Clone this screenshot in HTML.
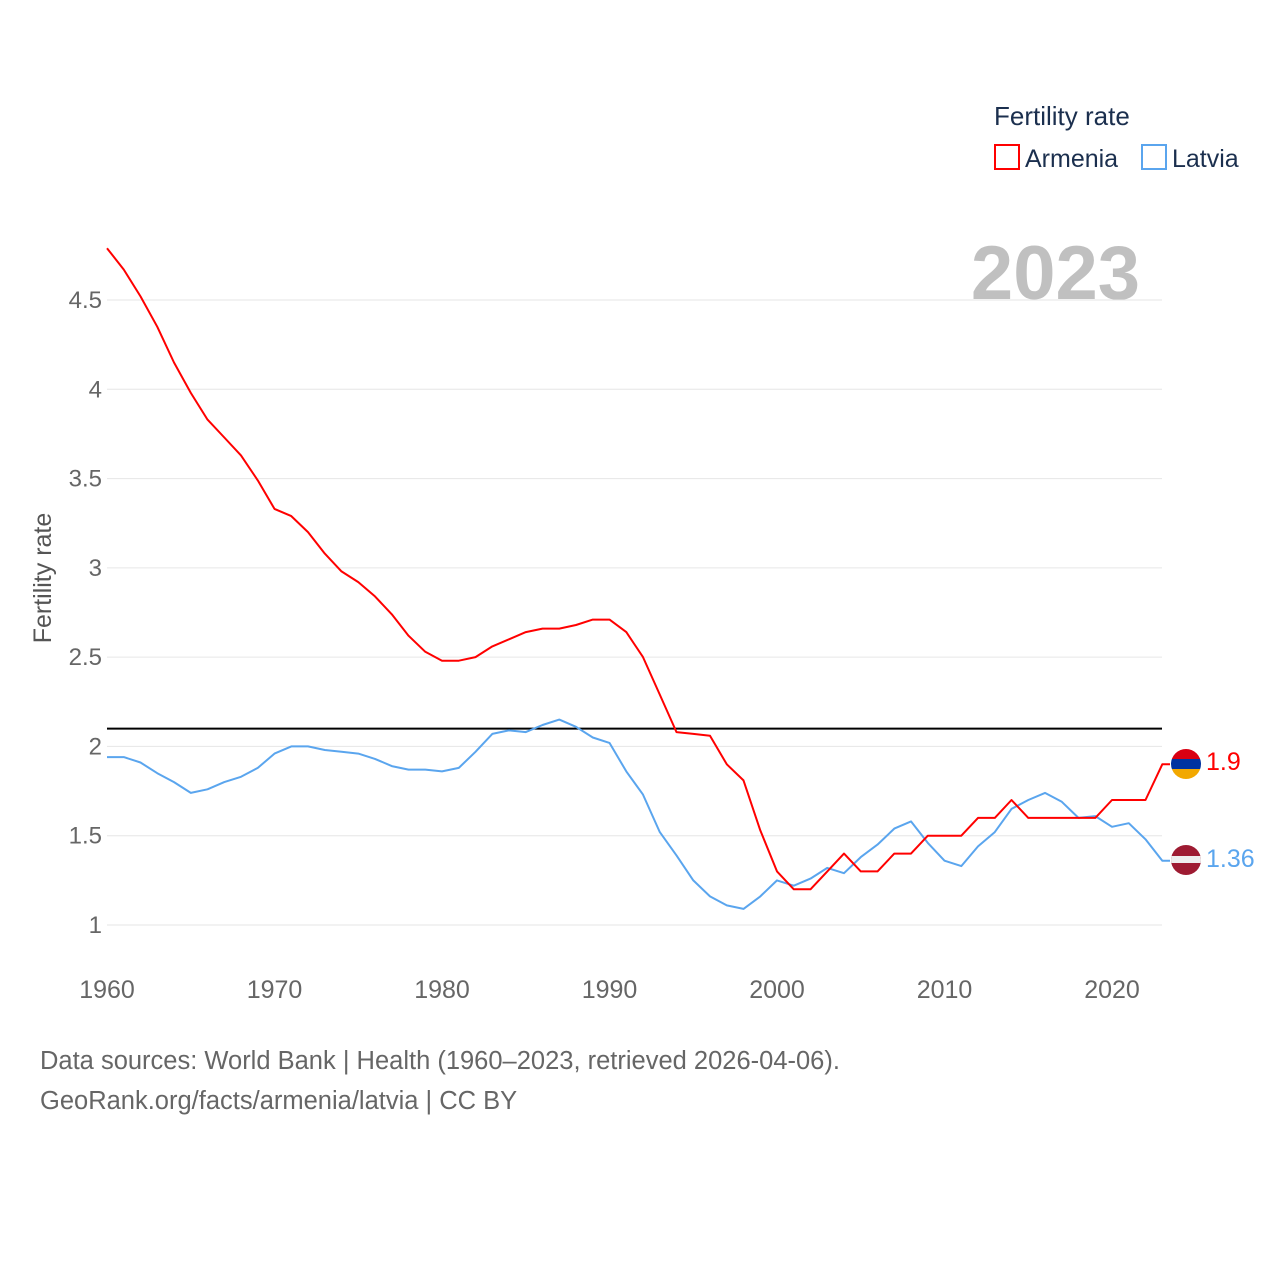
<!DOCTYPE html>
<html><head><meta charset="utf-8"><style>
body{margin:0;background:#fff;}
svg{display:block;font-family:"Liberation Sans",sans-serif;}
</style></head><body>
<svg id="chart" width="1280" height="1280" viewBox="0 0 1280 1280">
<text x="994" y="125" font-size="26" fill="#1b2f4e">Fertility rate</text>
<g>
<rect x="995" y="145" width="24" height="24" fill="none" stroke="#ff0000" stroke-width="2"/>
<text x="1025" y="167" font-size="25" fill="#1b2f4e">Armenia</text></g>
<g>
<rect x="1142" y="145" width="24" height="24" fill="none" stroke="#5aa5ee" stroke-width="2"/>
<text x="1172" y="167" font-size="25" fill="#1b2f4e">Latvia</text></g>
<text x="1140" y="299" font-size="76" font-weight="bold" fill="#c0c0c0" text-anchor="end">2023</text>
<g id="grid"></g><g id="yticks"></g><g id="xticks"></g>
<text transform="translate(51,578) rotate(-90)" font-size="25" fill="#555" text-anchor="middle">Fertility rate</text>
<g id="series"></g>
<g>
<clipPath id="c1"><circle cx="1186" cy="764" r="15"/></clipPath>
<g clip-path="url(#c1)"><rect x="1171" y="749" width="30" height="10" fill="#d90012"/><rect x="1171" y="759" width="30" height="10" fill="#0033a0"/><rect x="1171" y="769" width="30" height="10" fill="#f2a800"/></g></g>
<g>
<clipPath id="c2"><circle cx="1186" cy="860" r="15"/></clipPath>
<g clip-path="url(#c2)"><rect x="1171" y="845" width="30" height="30" fill="#9e1b32"/><rect x="1171" y="856" width="30" height="7" fill="#eee"/></g></g>
<text x="1206" y="770" font-size="25" fill="#ff0000">1.9</text>
<text x="1206" y="867" font-size="25" fill="#5aa5ee">1.36</text>
<text x="40" y="1069" font-size="25.5" fill="#666">Data sources: World Bank | Health (1960–2023, retrieved 2026-04-06).</text>
<text x="40" y="1109" font-size="25.5" fill="#666">GeoRank.org/facts/armenia/latvia | CC BY</text>
</svg>
<script>
const years=[];for(let y=1960;y<=2023;y++)years.push(y);
const armenia=[4.79,4.67,4.52,4.35,4.15,3.98,3.83,3.73,3.63,3.49,3.33,3.29,3.20,3.08,2.98,2.92,2.84,2.74,2.62,2.53,2.48,2.48,2.50,2.56,2.60,2.64,2.66,2.66,2.68,2.71,2.71,2.64,2.50,2.29,2.08,2.07,2.06,1.90,1.81,1.53,1.30,1.20,1.20,1.30,1.40,1.30,1.30,1.40,1.40,1.50,1.50,1.50,1.60,1.60,1.70,1.60,1.60,1.60,1.60,1.60,1.70,1.70,1.70,1.90];
const latvia=[1.94,1.94,1.91,1.85,1.80,1.74,1.76,1.80,1.83,1.88,1.96,2.00,2.00,1.98,1.97,1.96,1.93,1.89,1.87,1.87,1.86,1.88,1.97,2.07,2.09,2.08,2.12,2.15,2.11,2.05,2.02,1.86,1.73,1.52,1.39,1.25,1.16,1.11,1.09,1.16,1.25,1.22,1.26,1.32,1.29,1.38,1.45,1.54,1.58,1.46,1.36,1.33,1.44,1.52,1.65,1.70,1.74,1.69,1.60,1.61,1.55,1.57,1.48,1.36];
const yTicks=[1,1.5,2,2.5,3,3.5,4,4.5];
const xTicks=[1960,1970,1980,1990,2000,2010,2020];
const replacement=2.1;
const NS="http://www.w3.org/2000/svg";
const X=y=>107+(y-1960)*16.75, Y=v=>925-(v-1)*178.57;
function mk(t,a,p){const e=document.createElementNS(NS,t);for(const k in a)e.setAttribute(k,a[k]);p.appendChild(e);return e;}
const g=document.getElementById('grid'),yt=document.getElementById('yticks'),xt=document.getElementById('xticks'),s=document.getElementById('series');
yTicks.forEach(v=>{
const l=mk('line',{x1:107,x2:1162,y1:Y(v),y2:Y(v),stroke:'#e6e6e6','stroke-width':1},g);


const t=mk('text',{x:102,y:Y(v)+8,'font-size':24,fill:'#666','text-anchor':'end'},yt);t.textContent=String(v);


});
xTicks.forEach(v=>{
const t=mk('text',{x:X(v),y:998,'font-size':25,fill:'#666','text-anchor':'middle'},xt);t.textContent=String(v);


});
const rl=mk('line',{x1:107,x2:1162,y1:Y(replacement),y2:Y(replacement),stroke:'#000','stroke-width':2},s);


function path(d,c){let p=d.map((v,i)=>(i?'L':'M')+X(years[i]).toFixed(1)+','+Y(v).toFixed(1)).join(' ');
p+=' L1170,'+Y(d[d.length-1]).toFixed(1);
return mk('path',{d:p,fill:'none',stroke:c,'stroke-width':2,'stroke-linejoin':'round'},s);}
const pl=path(latvia,'#5aa5ee');


const pa=path(armenia,'#ff0000');


</script>
</body></html>
